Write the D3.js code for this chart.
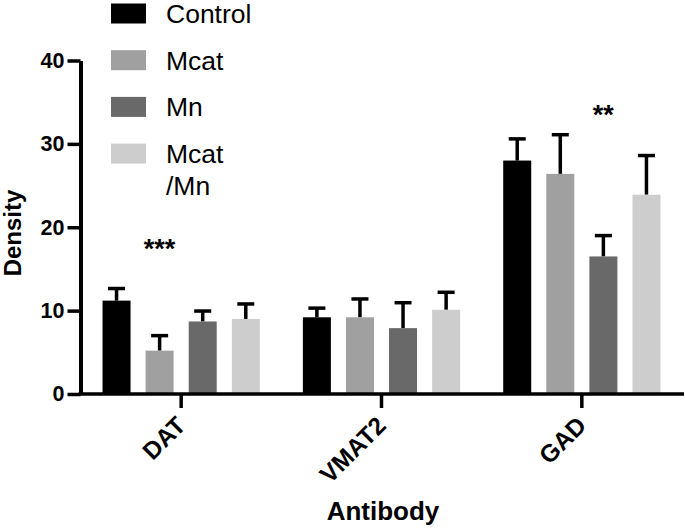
<!DOCTYPE html>
<html><head><meta charset="utf-8">
<script src="https://cdn.jsdelivr.net/npm/d3@7/dist/d3.min.js"></script>
<style>
body{margin:0;background:#fff;}
text{font-family:"Liberation Sans",Arial,sans-serif;}
</style></head>
<body><svg id="c" width="685" height="528"></svg>
<script>
const antibodies = ["DAT","VMAT2","GAD"];
const groups = ["Control","Mcat","Mn","Mcat/Mn"];
const legendLabels = [["Control"],["Mcat"],["Mn"],["Mcat","/Mn"]];
const colors = ["#000000","#a0a0a0","#696969","#cdcdcd"];
const meanControl = [11.2, 9.2, 28.0];
const meanMcat    = [5.2, 9.2, 26.4];
const meanMn      = [8.7, 7.9, 16.5];
const meanMcatMn  = [9.0, 10.1, 23.9];
const errControl = [1.45, 1.1, 2.6];
const errMcat    = [1.8, 2.2, 4.7];
const errMn      = [1.25, 3.05, 2.5];
const errMcatMn  = [1.8, 2.1, 4.7];
const yTicks = [0,10,20,30,40];
const stars = [{ab:"DAT", grp:"Mcat", text:"***", y:17.3},{ab:"GAD", grp:"Mn", text:"**", y:33.3}];

const means = [meanControl, meanMcat, meanMn, meanMcatMn];
const errs = [errControl, errMcat, errMn, errMcatMn];

const svg = d3.select("#c");
const x0 = d3.scaleBand().domain(antibodies).range([81, 682]);
const x1 = d3.scaleBand().domain(groups).range([0, x0.bandwidth()]).paddingInner(0.35).paddingOuter(0.5);
const y = d3.scaleLinear().domain([0,40]).range([394, 60.5]);

const data = [];
antibodies.forEach((ab,i)=>groups.forEach((g,j)=>data.push({ab, g, j, v:means[j][i], e:errs[j][i]})));

// error bars
const eb = svg.append("g");
data.forEach(d=>{
  const cx = x0(d.ab)+x1(d.g)+x1.bandwidth()/2;
  eb.append("line").attr("x1",cx).attr("x2",cx).attr("y1",y(d.v)).attr("y2",y(d.v+d.e)).attr("stroke","#000").attr("stroke-width",3.5);
  eb.append("line").attr("x1",cx-8.5).attr("x2",cx+8.5).attr("y1",y(d.v+d.e)).attr("y2",y(d.v+d.e)).attr("stroke","#000").attr("stroke-width",3.5);
});
// bars
svg.append("g").selectAll("rect").data(data).join("rect")
  .attr("x",d=>x0(d.ab)+x1(d.g)).attr("width",x1.bandwidth())
  .attr("y",d=>y(d.v)).attr("height",d=>y(0)-y(d.v))
  .attr("fill",d=>colors[d.j]);

// y axis
const ya = svg.append("g").attr("transform","translate(80.5,0)")
  .call(d3.axisLeft(y).tickValues(yTicks).tickSize(13).tickSizeOuter(0).tickPadding(3));
ya.select(".domain").attr("stroke-width",4).attr("stroke","#000");
ya.selectAll(".tick line").attr("stroke-width",3.5);
ya.selectAll(".tick text").attr("font-size",21.5).attr("font-weight","bold").attr("fill","#000").attr("font-family","Liberation Sans, Arial, sans-serif");

// x axis
const xa = svg.append("g").attr("transform","translate(0,394)")
  .call(d3.axisBottom(x0).tickSize(14).tickSizeOuter(0).tickPadding(0));
xa.select(".domain").attr("d","M78.5,0H684").attr("stroke-width",3.5).attr("stroke","#000");
xa.selectAll(".tick line").attr("stroke-width",3.5);
xa.selectAll(".tick text").attr("font-size",24.5).attr("font-weight","bold").attr("fill","#000")
  .attr("font-family","Liberation Sans, Arial, sans-serif")
  .attr("text-anchor","end").attr("dy",0).attr("y",0)
  .attr("transform","translate(6,33) rotate(-45)");

// axis titles
svg.append("text").attr("transform","translate(21,233) rotate(-90)").attr("text-anchor","middle")
  .attr("font-size",24).attr("font-weight","bold").text("Density");
svg.append("text").attr("x",383).attr("y",520).attr("text-anchor","middle")
  .attr("font-size",26).attr("font-weight","bold").text("Antibody");

// stars
stars.forEach(s=>{
  svg.append("text").attr("x",x0(s.ab)+x1(s.grp)+x1.bandwidth()/2).attr("y",y(s.y)+8)
    .attr("text-anchor","middle").attr("font-size",27).attr("font-weight","bold").text(s.text);
});

// legend
const lg = svg.append("g");
groups.forEach((g,i)=>{
  const yy = 3.5 + i*46.7;
  lg.append("rect").attr("x",111).attr("y",yy).attr("width",35).attr("height",20).attr("fill",colors[i]);
  legendLabels[i].forEach((t,k)=>{
    lg.append("text").attr("x",166).attr("y",yy+19.5+k*32).attr("font-size",26.5).attr("fill","#000").text(t);
  });
});
</script></body></html>
